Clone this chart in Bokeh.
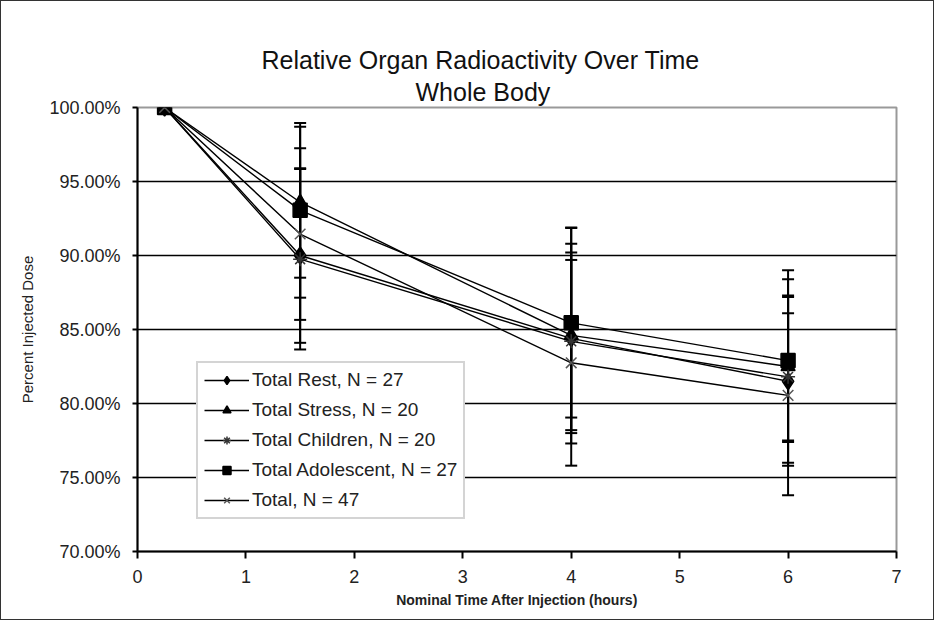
from bokeh.plotting import figure
from bokeh.models import (Range1d, SingleIntervalTicker, FixedTicker, PrintfTickFormatter,
                          ColumnDataSource, Whisker, TeeHead, Legend, LegendItem, Title)
from bokeh.embed import file_html
from bokeh.resources import INLINE

# ---- data ----
hours = [0.25, 1.5, 4, 6]
series_names = ["Total Rest, N = 27", "Total Stress, N = 20", "Total Children, N = 20",
                "Total Adolescent, N = 27", "Total, N = 47"]
rest = [100.0, 90.0, 84.4, 81.5]
rest_err = [0.0, 5.9, 6.4, 5.7]
stress = [100.0, 93.6, 84.6, 82.5]
stress_err = [0.0, 5.1, 7.3, 6.5]
children = [100.0, 89.75, 84.2, 81.8]
children_err = [0.0, 6.1, 6.0, 4.3]
adolescent = [100.0, 93.05, 85.45, 82.9]
adolescent_err = [0.0, 5.9, 6.4, 5.5]
total = [100.0, 91.45, 82.75, 80.55]
total_err = [0.0, 5.8, 6.95, 6.75]

title_lines = ["Relative Organ Radioactivity Over Time", "Whole Body"]
x_label = "Nominal Time After Injection (hours)"
y_label = "Percent Injected Dose"

FONT = "Liberation Sans"

p = figure(width=934, height=620, output_backend="svg", toolbar_location=None,
           x_range=Range1d(0, 7), y_range=Range1d(70, 100),
           min_border_left=136, min_border_right=39, min_border_top=106, min_border_bottom=70)
p.styles = {"border": "1.5px solid #333333"}

p.background_fill_color = "white"
p.border_fill_color = "white"
p.outline_line_color = "#999999"
p.outline_line_width = 2

# axes
p.xaxis.ticker = SingleIntervalTicker(interval=1)
p.yaxis.ticker = FixedTicker(ticks=[70, 75, 80, 85, 90, 95, 100])
p.yaxis.formatter = PrintfTickFormatter(format="%.2f%%")
for ax in (p.xaxis, p.yaxis):
    ax.axis_line_color = "black"
    ax.axis_line_width = 2
    ax.major_tick_line_color = "black"
    ax.major_tick_line_width = 2
    ax.major_tick_in = 0
    ax.minor_tick_line_color = None
    ax.major_label_text_font = FONT
    ax.major_label_text_font_size = "18px"
    ax.major_label_text_color = "#222222"
    ax.axis_label_text_font = FONT
    ax.axis_label_text_font_style = "normal"
    ax.axis_label_text_color = "#222222"
p.xaxis.major_tick_out = 7
p.xaxis.major_label_standoff = 11
p.xaxis.axis_label = x_label
p.xaxis.axis_label_text_font_size = "14px"
p.xaxis.axis_label_text_font_style = "bold"
p.xaxis.axis_label_standoff = 6
p.yaxis.major_tick_out = 5
p.yaxis.major_label_standoff = 12
p.yaxis.axis_label = y_label
p.yaxis.axis_label_text_font_size = "15px"
p.yaxis.axis_label_standoff = 10

# grid
p.xgrid.grid_line_color = None
p.ygrid.grid_line_color = "black"
p.ygrid.grid_line_width = 1.6

# title as two lines (first added sits closest to the frame)
p.add_layout(Title(text=title_lines[1], align="left", offset=278, standoff=4,
                   text_font=FONT, text_font_size="25px", text_font_style="normal",
                   text_color="#111111"), "above")
p.add_layout(Title(text=title_lines[0], align="left", offset=124, standoff=0,
                   text_font=FONT, text_font_size="25px", text_font_style="normal",
                   text_color="#111111"), "above")

series = [
    (rest, rest_err, "diamond", 17, "black", "black"),
    (stress, stress_err, "triangle", 14, "black", "black"),
    (children, children_err, "asterisk", 14, None, "#333333"),
    (adolescent, adolescent_err, "square", 14, "black", "black"),
    (total, total_err, "x", 15, None, "#555555"),
]

# error bars first
for vals, errs, *_ in series:
    xs = [h for h, e in zip(hours, errs) if e > 0]
    up = [v + e for v, e in zip(vals, errs) if e > 0]
    lo = [v - e for v, e in zip(vals, errs) if e > 0]
    src = ColumnDataSource(dict(x=xs, upper=up, lower=lo))
    w = Whisker(source=src, base="x", upper="upper", lower="lower", dimension="height",
                line_color="black", line_width=2,
                upper_head=TeeHead(size=12, line_width=2, line_color="black"),
                lower_head=TeeHead(size=12, line_width=2, line_color="black"))
    p.add_layout(w)

items = []
for (vals, errs, marker, size, fill, lcol), name in zip(series, series_names):
    src = ColumnDataSource(dict(x=hours, y=vals))
    ln = p.line("x", "y", source=src, line_color="black", line_width=1.4)
    sc = p.scatter("x", "y", source=src, marker=marker, size=size,
                   fill_color=fill, line_color=lcol, line_width=1.5)
    items.append(LegendItem(label=name, renderers=[ln, sc]))

legend = Legend(items=items, location=(59, 32), orientation="vertical",
                label_text_font=FONT, label_text_font_size="19px", label_text_color="#222222",
                glyph_width=45, glyph_height=20, label_height=20, label_standoff=3,
                spacing=8, padding=6, margin=0,
                border_line_color="#aaaaaa", border_line_width=2,
                background_fill_color="white", background_fill_alpha=1.0)
p.add_layout(legend, "center")

open("out.html", "w").write(file_html(p, INLINE))
